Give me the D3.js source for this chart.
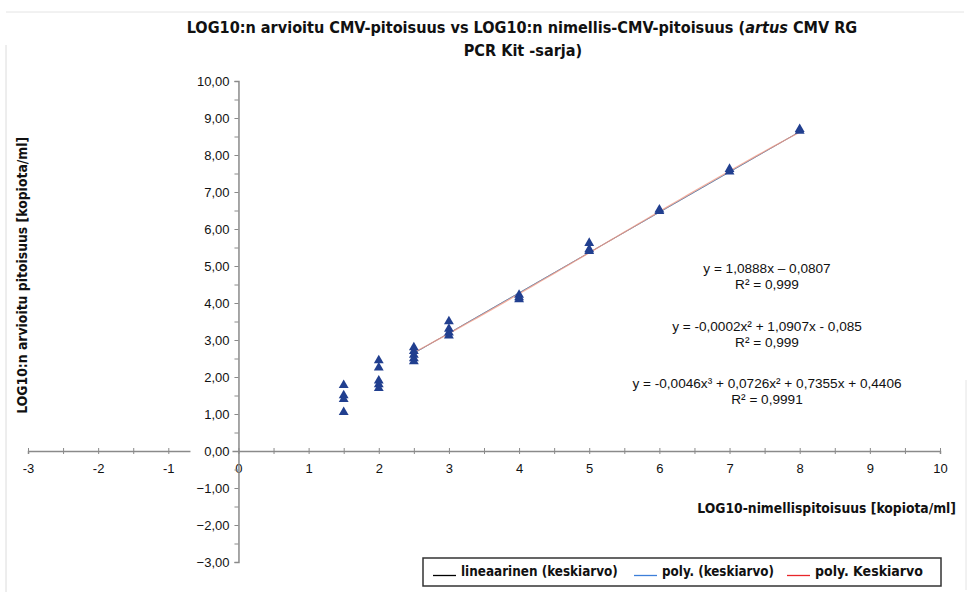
<!DOCTYPE html>
<html>
<head>
<meta charset="utf-8">
<script src="https://cdn.jsdelivr.net/npm/d3@7"></script>
<style>
  body { margin: 0; background: #fff; }
  svg { display: block; font-family: "Liberation Sans", Arial, sans-serif; }
  .bold { font-family: "Liberation Sans Narrow", "DejaVu Sans Condensed", "Liberation Sans", sans-serif; font-weight: bold; }
</style>
</head>
<body>
<div id="chart"></div>
<script>
const nominal = [1.5, 2, 2.5, 3, 4, 5, 6, 7, 8];
const measured = [
  [1.78, 1.5, 1.4, 1.05],
  [2.45, 2.25, 1.9, 1.8, 1.7],
  [2.8, 2.7, 2.6, 2.5, 2.42],
  [3.5, 3.3, 3.2, 3.12],
  [4.22, 4.15, 4.1],
  [5.62, 5.45, 5.4],
  [6.52, 6.48],
  [7.62, 7.55],
  [8.7, 8.65]
];
const xTickLabels = d3.range(-3, 11, 1);
const yTickLabels = d3.range(-3, 11, 1);

// trend line coefficients, constant term first
const linCoef = [-0.0807, 1.0888];
const poly2Coef = [-0.085, 1.0907, -0.0002];
const poly3Coef = [0.4406, 0.7355, 0.0726, -0.0046];
const fitRange = [2.5, 8];

const equations = [
  ["y = 1,0888x \u2013 0,0807", "R\u00b2 = 0,999"],
  ["y = -0,0002x\u00b2 + 1,0907x - 0,085", "R\u00b2 = 0,999"],
  ["y = -0,0046x\u00b3 + 0,0726x\u00b2 + 0,7355x + 0,4406", "R\u00b2 = 0,9991"]
];
const legendItems = [
  { label: "lineaarinen (keskiarvo)", color: "#000" },
  { label: "poly. (keskiarvo)", color: "#3d7fd9" },
  { label: "poly. Keskiarvo", color: "#e8262a" }
];

const width = 970, height = 598;
const svg = d3.select("#chart").append("svg")
  .attr("width", width)
  .attr("height", height);

const x = d3.scaleLinear().domain([-3, 10]).range([28, 940]);
const y = d3.scaleLinear().domain([-3, 10]).range([562, 81]);

// faint scan frame
svg.append("line").attr("x1", 6).attr("x2", 964).attr("y1", 12).attr("y2", 12)
  .attr("stroke", "#e4e4e4");
svg.append("line").attr("x1", 6).attr("x2", 6).attr("y1", 45).attr("y2", 592)
  .attr("stroke", "#dcdcdc");
svg.append("line").attr("x1", 966).attr("x2", 966).attr("y1", 380).attr("y2", 590)
  .attr("stroke", "#e4e4e4");

// shrink/grow font so a text spans the wanted width
function fitWidth(sel, w) {
  const fs = +sel.attr("font-size");
  const got = sel.node().getComputedTextLength();
  sel.attr("font-size", (fs * w / got).toFixed(2));
}

// Title, two lines
const t1 = svg.append("text").attr("class", "bold")
  .attr("x", 522).attr("y", 33)
  .attr("text-anchor", "middle").attr("font-size", 17).attr("fill", "#111");
t1.append("tspan").text("LOG10:n arvioitu CMV-pitoisuus vs LOG10:n nimellis-CMV-pitoisuus (");
t1.append("tspan").attr("font-style", "italic").text("artus");
t1.append("tspan").text(" CMV RG");
const t2 = svg.append("text").attr("class", "bold")
  .attr("x", 523).attr("y", 56)
  .attr("text-anchor", "middle").attr("font-size", 17).attr("fill", "#111")
  .text("PCR Kit -sarja)");
fitWidth(t1, 671);
t2.attr("font-size", t1.attr("font-size"));

// X axis (crosses at y=0)
const xAxis = svg.append("g")
  .attr("transform", `translate(0,${y(0)})`)
  .call(d3.axisBottom(x)
    .tickValues(d3.range(-3, 10.01, 0.5))
    .tickSize(3)
    .tickPadding(10)
    .tickFormat(d => Number.isInteger(d) && xTickLabels.includes(d) ? String(d) : ""));
xAxis.select(".domain").attr("stroke", "#8a8a8a").attr("stroke-width", 1.5);
xAxis.selectAll(".tick line").attr("y1", -3).attr("stroke", "#8a8a8a");
xAxis.selectAll(".tick text").attr("font-size", 13).attr("fill", "#111");

// Y axis
const yAxis = svg.append("g")
  .attr("transform", `translate(${x(0)},0)`)
  .call(d3.axisLeft(y)
    .tickValues(d3.range(-3, 10.01, 0.5))
    .tickSize(4)
    .tickPadding(5)
    .tickFormat(d => Number.isInteger(d) && yTickLabels.includes(d) ? d3.format(".2f")(d).replace(".", ",") : ""));
yAxis.select(".domain").attr("stroke", "#8a8a8a").attr("stroke-width", 1.5);
yAxis.selectAll(".tick line").attr("stroke", "#8a8a8a");
yAxis.selectAll(".tick text").attr("font-size", 13).attr("fill", "#111");
// white backing under the 0,00 label so the x axis breaks there
yAxis.selectAll(".tick").filter(d => d === 0).insert("rect", "text")
  .attr("x", -48).attr("y", -8).attr("width", 42).attr("height", 16).attr("fill", "#fff");

// Axis titles
const yTitle = svg.append("text").attr("class", "bold")
  .attr("transform", `translate(27,${y(4.75)}) rotate(-90)`)
  .attr("text-anchor", "middle").attr("font-size", 14).attr("fill", "#111")
  .text("LOG10:n arvioitu pitoisuus [kopiota/ml]");
fitWidth(yTitle, 277);

const xTitle = svg.append("text").attr("class", "bold")
  .attr("x", 956).attr("y", 513)
  .attr("text-anchor", "end").attr("font-size", 14).attr("fill", "#111")
  .text("LOG10-nimellispitoisuus [kopiota/ml]");
fitWidth(xTitle, 259);

// Trend lines
const poly = c => v => c.reduce((s, k, i) => s + k * Math.pow(v, i), 0);
const fitXs = d3.range(fitRange[0], fitRange[1] + 0.001, 0.1);
const line = d3.line().x(d => x(d[0])).y(d => y(d[1]));
[
  { coef: linCoef, color: "#000", op: 0.45, w: 1 },
  { coef: poly2Coef, color: "#3d7fd9", op: 0.45, w: 1 },
  { coef: poly3Coef, color: "#f0957f", op: 0.75, w: 1.3 }
].forEach(t => {
  const f = poly(t.coef);
  svg.append("path")
    .datum(fitXs.map(v => [v, f(v)]))
    .attr("d", line)
    .attr("fill", "none")
    .attr("stroke", t.color)
    .attr("stroke-opacity", t.op)
    .attr("stroke-width", t.w);
});

// Points
const points = nominal.flatMap((n, i) => measured[i].map(v => [n, v]));
svg.append("g").selectAll("path")
  .data(points)
  .join("path")
  .attr("transform", d => `translate(${x(d[0])},${y(d[1])})`)
  .attr("d", d3.symbol(d3.symbolTriangle).size(42))
  .attr("fill", "#213f8f");

// Equations
const eqY = [273, 331, 388];
equations.forEach((lines, i) => {
  lines.forEach((t, j) => {
    svg.append("text")
      .attr("x", 767).attr("y", eqY[i] + j * 16)
      .attr("text-anchor", "middle").attr("font-size", 13.6).attr("fill", "#111")
      .text(t);
  });
});

// Legend
const legend = svg.append("g").attr("transform", "translate(423,558)");
legend.append("rect")
  .attr("width", 518).attr("height", 28)
  .attr("fill", "#fff").attr("stroke", "#333").attr("stroke-width", 1.5);
const legX = [10, 211, 364];
const legW = [157, 112, 108];
legendItems.forEach((d, i) => {
  legend.append("line")
    .attr("x1", legX[i]).attr("x2", legX[i] + 23)
    .attr("y1", 17.5).attr("y2", 17.5)
    .attr("stroke", d.color).attr("stroke-width", 1.3);
  const lt = legend.append("text").attr("class", "bold")
    .attr("x", legX[i] + 28).attr("y", 18)
    .attr("font-size", 14).attr("fill", "#111")
    .text(d.label);
  fitWidth(lt, legW[i]);
});
</script>
</body>
</html>
